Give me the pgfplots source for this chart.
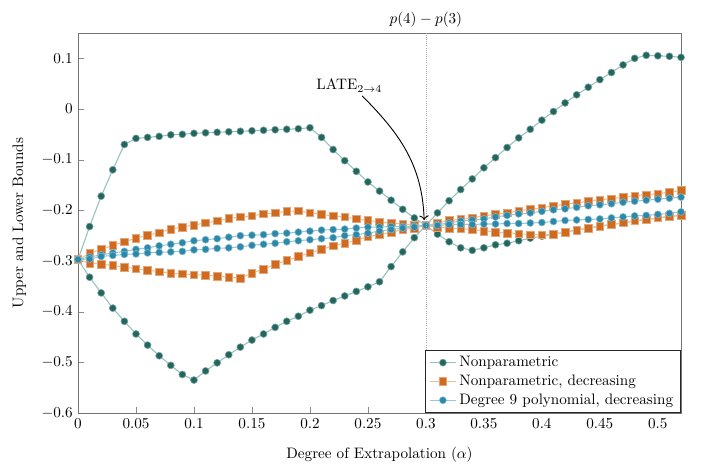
\documentclass[border=0pt]{standalone}
\usepackage{pgfplots}
\pgfplotsset{compat=1.18}
\usepackage{pgfplotstable}
\usetikzlibrary{arrows.meta}
\definecolor{npteal}{HTML}{23665F}
\definecolor{nporange}{HTML}{CF6A1F}
\definecolor{polyblue}{HTML}{2B88A8}
\definecolor{tealline}{HTML}{92C2BE}
\definecolor{orangeline}{HTML}{F4BD8E}
\definecolor{blueline}{HTML}{98C8DA}

% columns: alpha, then upper/lower curve of each estimator
\pgfplotstableread{
x    t1     t2     o1     o2     b1     b2
0.00 -0.297 -0.297 -0.297 -0.297 -0.297 -0.297
0.01 -0.232 -0.332 -0.285 -0.304 -0.292 -0.296
0.02 -0.172 -0.363 -0.277 -0.306 -0.288 -0.291
0.03 -0.120 -0.393 -0.269 -0.309 -0.284 -0.289
0.04 -0.070 -0.419 -0.262 -0.312 -0.281 -0.287
0.05 -0.058 -0.444 -0.255 -0.315 -0.277 -0.286
0.06 -0.056 -0.466 -0.249 -0.318 -0.274 -0.284
0.07 -0.054 -0.487 -0.244 -0.321 -0.270 -0.283
0.08 -0.051 -0.506 -0.237 -0.324 -0.267 -0.282
0.09 -0.050 -0.524 -0.233 -0.325 -0.264 -0.281
0.10 -0.048 -0.535 -0.229 -0.327 -0.260 -0.278
0.11 -0.047 -0.517 -0.225 -0.328 -0.258 -0.277
0.12 -0.046 -0.501 -0.221 -0.330 -0.256 -0.275
0.13 -0.045 -0.485 -0.216 -0.332 -0.253 -0.274
0.14 -0.044 -0.470 -0.213 -0.334 -0.250 -0.272
0.15 -0.043 -0.456 -0.211 -0.324 -0.249 -0.269
0.16 -0.042 -0.444 -0.207 -0.316 -0.248 -0.267
0.17 -0.041 -0.431 -0.205 -0.307 -0.246 -0.265
0.18 -0.040 -0.419 -0.202 -0.299 -0.245 -0.262
0.19 -0.039 -0.409 -0.201 -0.291 -0.243 -0.260
0.20 -0.037 -0.397 -0.205 -0.284 -0.241 -0.258
0.21 -0.056 -0.388 -0.208 -0.277 -0.239 -0.256
0.22 -0.080 -0.378 -0.211 -0.270 -0.238 -0.254
0.23 -0.102 -0.369 -0.213 -0.265 -0.237 -0.250
0.24 -0.123 -0.360 -0.217 -0.259 -0.235 -0.248
0.25 -0.144 -0.351 -0.220 -0.252 -0.233 -0.245
0.26 -0.162 -0.341 -0.223 -0.248 -0.233 -0.241
0.27 -0.180 -0.311 -0.225 -0.243 -0.232 -0.238
0.28 -0.198 -0.282 -0.227 -0.238 -0.232 -0.235
0.29 -0.215 -0.254 -0.229 -0.235 -0.231 -0.233
0.30 -0.230 -0.230 -0.230 -0.230 -0.230 -0.230
0.31 -0.247 -0.205 -0.225 -0.233 -0.228 -0.230
0.32 -0.262 -0.181 -0.220 -0.235 -0.225 -0.228
0.33 -0.274 -0.159 -0.218 -0.236 -0.221 -0.228
0.34 -0.279 -0.138 -0.215 -0.238 -0.219 -0.228
0.35 -0.274 -0.116 -0.211 -0.241 -0.217 -0.227
0.36 -0.268 -0.096 -0.208 -0.243 -0.213 -0.227
0.37 -0.265 -0.076 -0.205 -0.245 -0.210 -0.226
0.38 -0.260 -0.057 -0.201 -0.246 -0.207 -0.226
0.39 -0.255 -0.040 -0.198 -0.248 -0.205 -0.225
0.40 -0.251 -0.022 -0.195 -0.248 -0.202 -0.224
0.41 -0.247 -0.005 -0.191 -0.247 -0.199 -0.222
0.42 -0.243 0.012  -0.188 -0.243 -0.197 -0.220
0.43 -0.239 0.028  -0.185 -0.239 -0.194 -0.219
0.44 -0.235 0.043  -0.182 -0.235 -0.191 -0.218
0.45 -0.231 0.058  -0.179 -0.231 -0.189 -0.217
0.46 -0.228 0.072  -0.177 -0.228 -0.187 -0.215
0.47 -0.225 0.087  -0.174 -0.225 -0.184 -0.213
0.48 -0.221 0.100  -0.171 -0.221 -0.182 -0.211
0.49 -0.218 0.106  -0.169 -0.218 -0.180 -0.210
0.50 -0.215 0.105  -0.167 -0.215 -0.178 -0.208
0.51 -0.212 0.104  -0.164 -0.212 -0.176 -0.206
0.52 -0.210 0.102  -0.161 -0.210 -0.174 -0.203
}\bounds

\begin{document}
\begin{tikzpicture}
% page frame: 714 x 475 px at 0.66pt per px, axis box at origin
\path[use as bounding box] (-51.48pt,-40.92pt) rectangle (419.76pt,272.58pt);
\begin{axis}[
  scale only axis, width=398pt, height=250.8pt,
  xmin=0, xmax=0.52, ymin=-0.6, ymax=0.15,
  clip mode=individual,
  xtick={0,0.05,0.1,0.15,0.2,0.25,0.3,0.35,0.4,0.45,0.5},
  ytick={-0.6,-0.5,-0.4,-0.3,-0.2,-0.1,0,0.1},
  xticklabel style={/pgf/number format/fixed,/pgf/number format/precision=2},
  yticklabel style={/pgf/number format/fixed},
  tick pos=left, tick align=inside,
  axis line style={black!55}, tick style={black!45},
  xlabel={Degree of Extrapolation ($\alpha$)},
  xlabel style={yshift=-6pt},
  ylabel={Upper and Lower Bounds},
  ylabel style={yshift=3.4pt},
  legend style={at={(1,0)},anchor=south east,cells={anchor=west},draw=black!85},
  every axis plot/.append style={line width=0.7pt},
]
\addplot[color=tealline, mark=*, mark size=2.3pt, mark options={fill=npteal, draw=npteal!60, line width=0.4pt}] table[x=x,y=t1] {\bounds};
\addplot[color=tealline, mark=*, mark size=2.3pt, mark options={fill=npteal, draw=npteal!60, line width=0.4pt}, forget plot] table[x=x,y=t2] {\bounds};
\addplot[color=orangeline, mark=square*, mark size=2.5pt, mark options={fill=nporange, draw=nporange!60, line width=0.4pt}] table[x=x,y=o1] {\bounds};
\addplot[color=orangeline, mark=square*, mark size=2.5pt, mark options={fill=nporange, draw=nporange!60, line width=0.4pt}, forget plot] table[x=x,y=o2] {\bounds};
\addplot[color=blueline, mark=*, mark size=2.3pt, mark options={fill=polyblue, draw=polyblue!60, line width=0.4pt}] table[x=x,y=b1] {\bounds};
\addplot[color=blueline, mark=*, mark size=2.3pt, mark options={fill=polyblue, draw=polyblue!60, line width=0.4pt}, forget plot] table[x=x,y=b2] {\bounds};
\legend{Nonparametric,{Nonparametric, decreasing},{Degree 9 polynomial, decreasing}}

\draw[black!35, densely dotted] (axis cs:0.3,-0.6) -- (axis cs:0.3,0.15);
\node[anchor=south] at (axis cs:0.3,0.15) {$p(4)-p(3)$};
\node at (axis cs:0.234,0.046) {LATE$_{2\to4}$};
\draw[-{To[length=3pt]}, line width=0.6pt] (axis cs:0.245,0.026) to[out=-45,in=92] (axis cs:0.2985,-0.219);
\end{axis}
\end{tikzpicture}
\end{document}
